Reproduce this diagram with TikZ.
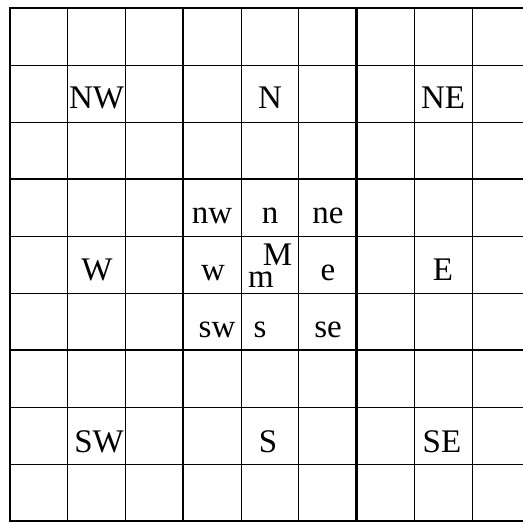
\documentclass[tikz,border=0pt]{standalone}
\usepackage{fontspec}
\setmainfont{Liberation Serif}
\begin{document}
\begin{tikzpicture}[x=1pt,y=-1pt,
  thin line/.style={line width=0.9pt,black},
  thick line/.style={line width=2.2pt,black},
  lbl/.style={inner sep=0pt,anchor=base,font=\fontsize{33}{38}\selectfont}]
\useasboundingbox (0,0) rectangle (523,523);
\begin{scope}
\clip (0,0) rectangle (523,523);
% thin grid lines
\foreach \i in {1,2,4,5,7,8} {
  \draw[thin line] ({10+57.75*\i},8) -- ({10+57.75*\i},521);
  \draw[thin line] (10,{8+57*\i}) -- (540,{8+57*\i});
}
% thick grid lines
\foreach \i in {3,6} {
  \draw[thick line] ({10+57.75*\i},8) -- ({10+57.75*\i},521);
  \draw[thick line] (10,{8+57*\i}) -- (540,{8+57*\i});
}
\draw[thick line] (540,8) -- (10,8) -- (10,521) -- (540,521);
\end{scope}
% outer labels
\node[lbl] (NW) at (96.6,108) {NW};
\node[lbl] (N) at (270,108) {N};
\node[lbl] (NE) at (443,108) {NE};
\node[lbl] (W) at (97,280) {W};
\node[lbl] (E) at (443,280) {E};
\node[lbl] (SW) at (99,452) {SW};
\node[lbl] (S) at (268,452) {S};
\node[lbl] (SE) at (442,452) {SE};
% inner labels
\node[lbl] (nw) at (212,223) {nw};
\node[lbl] (n) at (270,223) {n};
\node[lbl] (ne) at (328,223) {ne};
\node[lbl] (w) at (213,280) {w};
\node[lbl] (M) at (277.5,265) {M};
\node[lbl] (m) at (261,287) {m};
\node[lbl] (e) at (328,280) {e};
\node[lbl] (sw) at (217,337) {sw};
\node[lbl] (s) at (260,337) {s};
\node[lbl] (se) at (328,337) {se};
\end{tikzpicture}
\end{document}
